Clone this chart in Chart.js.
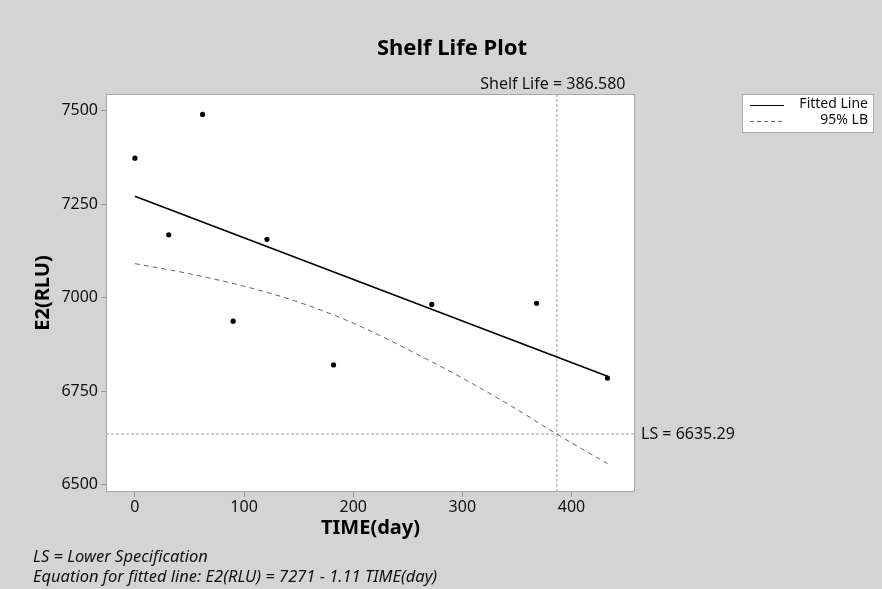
<!DOCTYPE html>
<html>
<head>
<meta charset="utf-8">
<script src="https://cdn.jsdelivr.net/npm/chart.js@4/dist/chart.umd.min.js"></script>
<style>
  html, body { margin: 0; padding: 0; background: #d4d4d4; }
  #wrap { width: 882px; height: 589px; }
</style>
</head>
<body>
<div id="wrap"><canvas id="c" width="882" height="589"></canvas></div>
<script>
// ---- data ----
const timeDays = [0, 31, 62, 90, 121, 182, 272, 368, 433];
const e2Values = [7373, 7168, 7490, 6937, 7156, 6820, 6982, 6985, 6785];

const fitX = [0, 433];
const fitY = [7271, 6790];

const lbX = [0, 50, 106, 150, 200, 261, 300, 350, 386.58, 433];
const lbY = [7091, 7064, 7026, 6988, 6932, 6845, 6785, 6701, 6635, 6556];

const shelfLife = 386.58;
const lowerSpec = 6635.29;

const xTicks = [0, 100, 200, 300, 400];
const yTicks = [6500, 6750, 7000, 7250, 7500];
const xRange = [-26.5, 458.2];
const yRange = [6480.2, 7544.7];

const FONT = "'Noto Sans', 'Open Sans', sans-serif";

const pts = (xs, ys) => xs.map((x, i) => ({ x: x, y: ys[i] }));

const decorPlugin = {
  id: 'decor',
  beforeDraw(chart) {
    const { ctx, chartArea: a } = chart;
    ctx.save();
    ctx.fillStyle = '#d4d4d4';
    ctx.fillRect(0, 0, chart.width, chart.height);
    ctx.fillStyle = '#ffffff';
    ctx.fillRect(a.left, a.top, a.right - a.left, a.bottom - a.top);
    ctx.restore();
  },
  afterDraw(chart) {
    const { ctx, chartArea: a, scales } = chart;
    const xs = scales.x, ys = scales.y;
    ctx.save();
    // plot border
    ctx.strokeStyle = '#a8a8a8';
    ctx.lineWidth = 1;
    ctx.strokeRect(a.left + 0.5, a.top + 0.5, a.right - a.left - 1, a.bottom - a.top - 1);

    // title
    ctx.fillStyle = '#000';
    ctx.font = "bold 22px " + FONT;
    ctx.textAlign = 'center';
    ctx.textBaseline = 'alphabetic';
    ctx.fillText('Shelf Life Plot', 452, 55);

    // axis titles
    ctx.font = "bold 20px " + FONT;
    ctx.fillText('TIME(day)', (a.left + a.right) / 2, 534);
    ctx.save();
    ctx.translate(49, (a.top + a.bottom) / 2);
    ctx.rotate(-Math.PI / 2);
    ctx.fillText('E2(RLU)', 0, 0);
    ctx.restore();

    // shelf life label
    ctx.font = "16px " + FONT;
    ctx.fillStyle = '#111';
    ctx.fillText('Shelf Life = 386.580', xs.getPixelForValue(shelfLife) - 4, 89);

    // LS label
    ctx.textAlign = 'left';
    ctx.textBaseline = 'middle';
    ctx.fillText('LS = 6635.29', a.right + 6, ys.getPixelForValue(lowerSpec));

    // legend
    const lx = 742, ly = 94, lw = 131, lh = 38;
    ctx.fillStyle = '#fff';
    ctx.fillRect(lx, ly, lw, lh);
    ctx.strokeStyle = '#a8a8a8';
    ctx.strokeRect(lx + 0.5, ly + 0.5, lw, lh);
    ctx.strokeStyle = '#000';
    ctx.lineWidth = 1.2;
    ctx.beginPath(); ctx.moveTo(750, 105.5); ctx.lineTo(784, 105.5); ctx.stroke();
    ctx.strokeStyle = '#666';
    ctx.lineWidth = 1;
    ctx.setLineDash([4, 3]);
    ctx.beginPath(); ctx.moveTo(750, 121.5); ctx.lineTo(784, 121.5); ctx.stroke();
    ctx.setLineDash([]);
    ctx.fillStyle = '#111';
    ctx.font = "14px " + FONT;
    ctx.textAlign = 'right';
    ctx.fillText('Fitted Line', 868, 104);
    ctx.fillText('95% LB', 868, 120);

    // footer
    ctx.textAlign = 'left';
    ctx.textBaseline = 'alphabetic';
    ctx.font = "italic 16.5px " + FONT;
    ctx.fillStyle = '#111';
    ctx.fillText('LS = Lower Specification', 33, 562);
    ctx.fillText('Equation for fitted line: E2(RLU) = 7271 - 1.11 TIME(day)', 33, 582);
    ctx.restore();
  }
};

new Chart(document.getElementById('c'), {
  type: 'scatter',
  data: {
    datasets: [
      {
        label: 'Shelf life line',
        data: [{ x: shelfLife, y: yRange[0] }, { x: shelfLife, y: yRange[1] }],
        showLine: true, borderColor: '#a0a0a0', borderWidth: 1, borderDash: [3, 2],
        pointRadius: 0, order: 5
      },
      {
        label: 'LS line',
        data: [{ x: xRange[0], y: lowerSpec }, { x: xRange[1], y: lowerSpec }],
        showLine: true, borderColor: '#a0a0a0', borderWidth: 1, borderDash: [3, 2],
        pointRadius: 0, order: 5
      },
      {
        label: '95% LB',
        data: pts(lbX, lbY),
        showLine: true, borderColor: '#666', borderWidth: 1, borderDash: [5, 4],
        cubicInterpolationMode: 'monotone',
        pointRadius: 0, order: 3
      },
      {
        label: 'Fitted Line',
        data: pts(fitX, fitY),
        showLine: true, borderColor: '#000', borderWidth: 1.6,
        pointRadius: 0, order: 2
      },
      {
        label: 'E2(RLU)',
        data: pts(timeDays, e2Values),
        showLine: false, backgroundColor: '#000', borderColor: '#000',
        pointRadius: 2.6, pointBorderWidth: 0, order: 1
      }
    ]
  },
  options: {
    responsive: false,
    animation: false,
    devicePixelRatio: 1,
    layout: { padding: { left: 0, right: 247, top: 94, bottom: 0 } },
    plugins: { legend: { display: false }, tooltip: { enabled: false }, title: { display: false } },
    scales: {
      x: {
        type: 'linear', min: xRange[0], max: xRange[1],
        afterBuildTicks: (s) => { s.ticks = xTicks.map(v => ({ value: v })); },
        afterFit: (s) => { s.height = 97; },
        grid: { drawOnChartArea: false, drawTicks: true, tickLength: 5, color: '#999' },
        border: { display: false },
        ticks: { color: '#111', font: { family: FONT, size: 16 }, padding: 1, maxRotation: 0,
                 callback: (v) => String(v) },
        title: { display: false }
      },
      y: {
        type: 'linear', min: yRange[0], max: yRange[1],
        afterBuildTicks: (s) => { s.ticks = yTicks.map(v => ({ value: v })); },
        afterFit: (s) => { s.width = 106; },
        grid: { drawOnChartArea: false, drawTicks: true, tickLength: 5, color: '#999' },
        border: { display: false },
        ticks: { color: '#111', font: { family: FONT, size: 16 }, padding: 3,
                 callback: (v) => String(v) },
        title: { display: false }
      }
    }
  },
  plugins: [decorPlugin]
});
</script>
</body>
</html>
